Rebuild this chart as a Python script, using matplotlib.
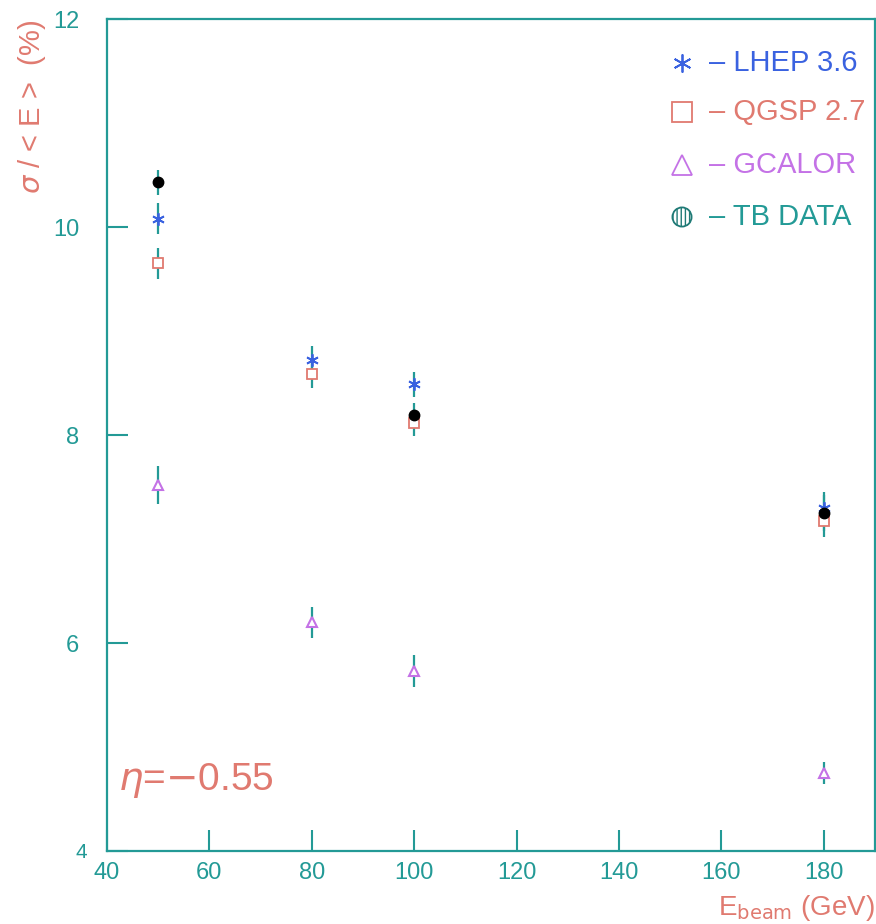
import numpy as np
import matplotlib.pyplot as plt

# beam energies (GeV)
energy = [50, 80, 100, 180]

# sigma/<E> (%) and errors
lhep = [10.08, 8.72, 8.49, 7.30]
lhep_err = [0.15, 0.14, 0.12, 0.15]
qgsp = [9.65, 8.59, 8.12, 7.17]
qgsp_err = [0.15, 0.14, 0.13, 0.15]
gcalor = [7.52, 6.20, 5.73, 4.75]
gcalor_err = [0.18, 0.15, 0.15, 0.11]
tbdata = [10.43, None, 8.19, 7.25]
tbdata_err = [0.12, None, 0.12, 0.17]

legend_labels = ["LHEP 3.6", "QGSP 2.7", "GCALOR", "TB DATA"]

teal = "#239a96"
salmon = "#e07a70"
blue = "#3a62e0"
violet = "#c472e6"

plt.rcParams['font.family'] = ['Liberation Sans', 'DejaVu Sans']

fig = plt.figure(figsize=(8.76, 9.24), dpi=100)
ax = fig.add_axes([107/876, 1-851/924, (875-107)/876, (851-19)/924])

def draw(x, y, err, **kw):
    xs = [a for a, b in zip(x, y) if b is not None]
    ys = [b for b in y if b is not None]
    es = [e for e in err if e is not None]
    ax.errorbar(xs, ys, yerr=es, fmt='none', ecolor=teal, elinewidth=1.6, capsize=0, zorder=2)
    ax.plot(xs, ys, linestyle='none', zorder=3, **kw)

draw(energy, gcalor, gcalor_err, marker='^', ms=7, mfc='white', mec=violet, mew=1.5)
draw(energy, lhep, lhep_err, marker=(6, 2, 0), ms=9, mec=blue, mew=1.3)
draw(energy, qgsp, qgsp_err, marker='s', ms=7.5, mfc='white', mec=salmon, mew=1.3)
draw(energy, tbdata, tbdata_err, marker='o', ms=7.5, mfc='black', mec='black')

ax.set_xlim(40, 190)
ax.set_ylim(4, 12)
ax.set_xticks(np.arange(40, 181, 20))
ax.set_yticks([4, 6, 8, 10, 12])
ax.set_yticklabels(["", "6", "8", "10", "12"])
ax.tick_params(direction='in', length=15, width=1.5, color=teal, labelcolor=teal,
               labelsize=17, pad=8)
ax.tick_params(axis='y', pad=20)
for s in ax.spines.values():
    s.set_color(teal)
    s.set_linewidth(1.6)

# small "4" at the corner
fig.text(81/876, 1-852/924, "4", color=teal, fontsize=15, ha='center', va='center')

# axis labels
fig.text(32/876, 1-20/924, r"$\sigma$ / < E >  (%)", color=salmon, fontsize=21,
         rotation=90, ha='center', va='top')
fig.text(875/876, 1-908/924, r"E$_{\mathrm{beam}}$ (GeV)", color=salmon, fontsize=20,
         ha='right', va='center')

# eta annotation
ax.text(0.014, 0.085, r"$\eta$=$-$0.55", transform=ax.transAxes, color=salmon,
        fontsize=28, ha='left', va='center')

# legend
leg_y = [63, 112, 165, 217]
leg_colors = [blue, salmon, violet, teal]
mx = (682 - 107) / 768
for lab, yy, col, i in zip(legend_labels, leg_y, leg_colors, range(4)):
    ya = (851 - yy) / 832
    if i == 0:
        ax.plot([mx], [ya], transform=ax.transAxes, marker=(6, 2, 0), ms=13, mec=blue, mew=1.3)
    elif i == 1:
        ax.plot([mx], [ya], transform=ax.transAxes, marker='s', ms=14, mfc='white', mec=salmon, mew=1.3)
    elif i == 2:
        ax.plot([mx], [ya], transform=ax.transAxes, marker='^', ms=14, mfc='white', mec=violet, mew=1.3)
    else:
        ax.scatter([mx], [ya], transform=ax.transAxes, marker='o', s=190, facecolor='white',
                   edgecolor='#1f7a76', hatch='||||', linewidth=1.3)
    ax.text(mx + 0.035, ya, "– " + lab, transform=ax.transAxes, color=col,
            fontsize=21, ha='left', va='center')

fig.savefig("out.png", dpi=100)
